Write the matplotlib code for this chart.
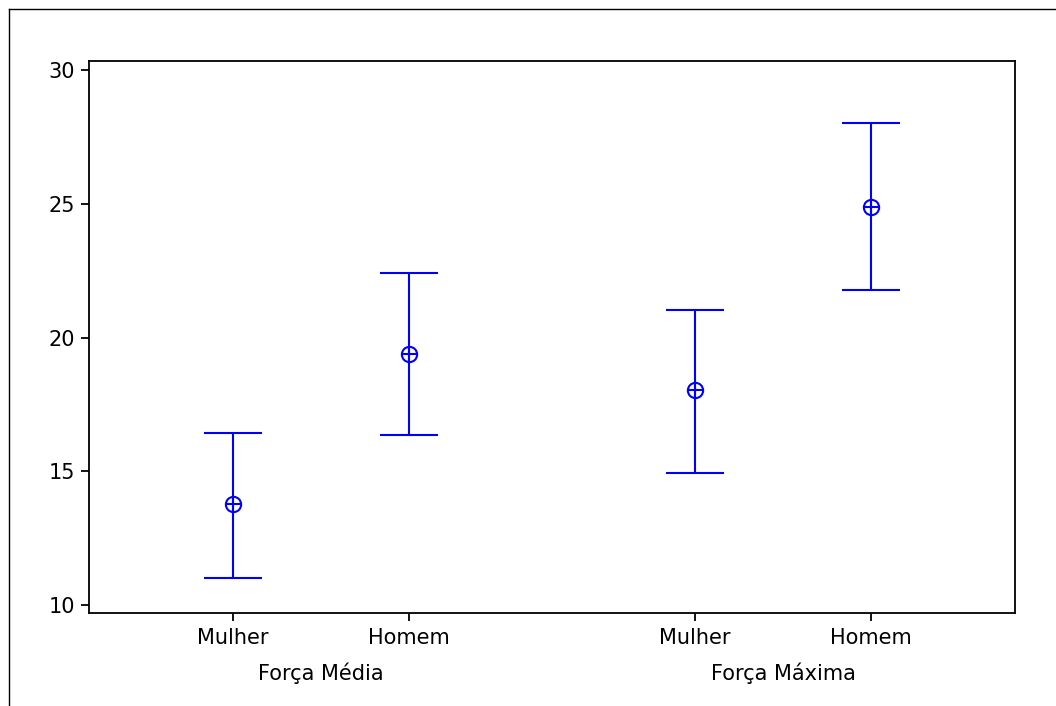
import numpy as np
import matplotlib.pyplot as plt
from matplotlib import transforms
from matplotlib.lines import Line2D

# interval plot (95% CI of the mean)
groups = ["Força Média", "Força Máxima"]
sexes = ["Mulher", "Homem"]
means = [13.78, 19.38, 18.04, 24.88]
upper = [16.43, 22.41, 21.03, 28.02]
lower = [11.01, 16.36, 14.93, 21.78]

means = np.array(means)
upper = np.array(upper)
lower = np.array(lower)

# layout of categories: two sexes per group, wider gap between groups
group_gap = 2.625
xpos = np.array([g * group_gap + s for g in range(len(groups)) for s in range(len(sexes))]) + 1.0

fig = plt.figure(figsize=(10.56, 7.06), dpi=100)
ax = fig.add_axes([89 / 1056, 1 - 613 / 706, (1015 - 89) / 1056, (613 - 61) / 706])

blue = "#0000ff"
ax.errorbar(xpos, means, yerr=[means - lower, upper - means], fmt="none",
            ecolor=blue, elinewidth=1.5, capsize=21, capthick=1.5)
ax.plot(xpos, means, linestyle="none", marker="o", markersize=11,
        markerfacecolor="none", markeredgecolor=blue, markeredgewidth=1.5)
ax.plot(xpos, means, linestyle="none", marker="+", markersize=11,
        markeredgecolor=blue, markeredgewidth=1.5)

ax.set_xlim(xpos[0] - 0.818, xpos[-1] + 0.818)
ax.set_ylim(9.70, 30.34)
ax.set_yticks([10, 15, 20, 25, 30])
ax.set_xticks(xpos)
ax.set_xticklabels(sexes * len(groups))

for sp in ax.spines.values():
    sp.set_linewidth(1.3)
ax.tick_params(axis="both", direction="out", length=6, width=1.3,
               labelsize=15, pad=4)
ax.tick_params(axis="x", pad=5)

trans = transforms.blended_transform_factory(ax.transData, ax.transAxes)
for g, name in enumerate(groups):
    xc = xpos[g * len(sexes):(g + 1) * len(sexes)].mean()
    ax.text(xc, -0.109, name, transform=trans, ha="center", va="center",
            fontsize=15)

# outer frame (left and top edges visible)
fig.add_artist(Line2D([9 / 1056, 9 / 1056], [0, 1 - 9 / 706],
                      transform=fig.transFigure, color="black", lw=1))
fig.add_artist(Line2D([9 / 1056, 1], [1 - 9 / 706, 1 - 9 / 706],
                      transform=fig.transFigure, color="black", lw=1))

fig.savefig("out.png", dpi=100)
